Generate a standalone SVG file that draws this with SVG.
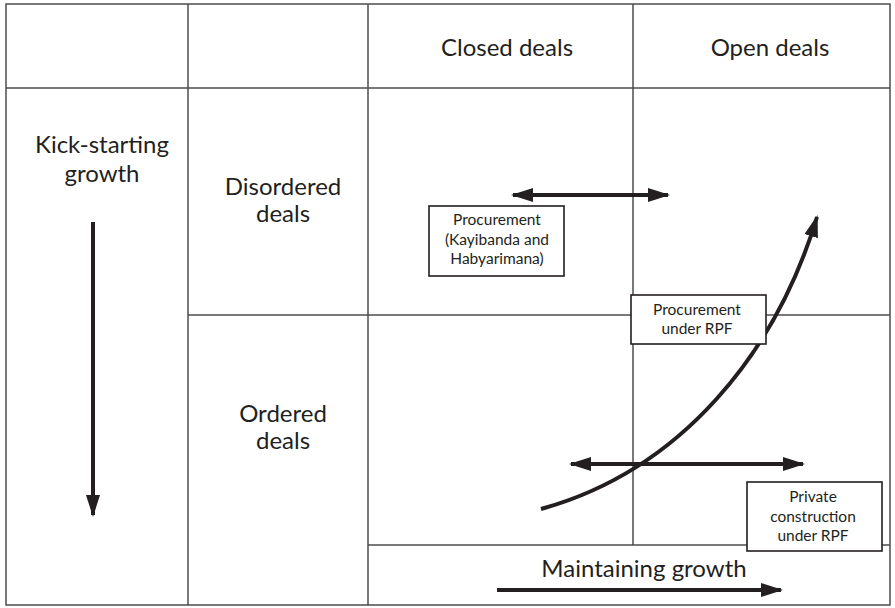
<svg xmlns="http://www.w3.org/2000/svg" width="895" height="608" viewBox="0 0 895 608">
<style>
.grid{stroke:#4d4d4d;stroke-width:1.5;fill:none}
.box{fill:#fff;stroke:#231f20;stroke-width:1.6}
.t{font-family:Lato,"Open Sans",sans-serif;fill:#231f20;text-anchor:middle}
.big{font-size:24px}
.small{font-size:15.5px}
.arr{stroke:#231f20;stroke-width:4;fill:none}
</style>
<defs>
<marker id="ah" markerUnits="userSpaceOnUse" markerWidth="22" markerHeight="14" refX="20" refY="7" orient="auto-start-reverse">
<path d="M0,0 L22,7 L0,14 Z" fill="#231f20"/>
</marker>
</defs>
<rect width="895" height="608" fill="#fff"/>
<g id="grid">
<rect class="grid" x="6" y="4" width="884" height="601"/>
<line class="grid" x1="6" y1="88" x2="890" y2="88"/>
<line class="grid" x1="188" y1="4" x2="188" y2="605"/>
<line class="grid" x1="368" y1="4" x2="368" y2="605"/>
<line class="grid" x1="633" y1="4" x2="633" y2="545"/>
<line class="grid" x1="188" y1="315" x2="890" y2="315"/>
<line class="grid" x1="368" y1="545" x2="890" y2="545"/>
</g>
<g id="headers">
<text class="t big" x="507" y="56">Closed deals</text>
<text class="t big" x="770" y="56">Open deals</text>
<text class="t big" x="102" y="153">Kick-starting</text>
<text class="t big" x="102" y="182">growth</text>
<text class="t big" x="283" y="195">Disordered</text>
<text class="t big" x="283" y="222">deals</text>
<text class="t big" x="283" y="422">Ordered</text>
<text class="t big" x="283" y="449">deals</text>
<text class="t big" x="644" y="577">Maintaining growth</text>
</g>
<g id="connectors">
<line class="arr" x1="93" y1="222" x2="93" y2="515" marker-end="url(#ah)"/>
<line class="arr" x1="513" y1="195" x2="668" y2="195" marker-start="url(#ah)" marker-end="url(#ah)"/>
<line class="arr" x1="571" y1="464" x2="803" y2="464" marker-start="url(#ah)" marker-end="url(#ah)"/>
<line class="arr" x1="497" y1="590" x2="781" y2="590" marker-end="url(#ah)"/>
<path class="arr" d="M541,509 C682,470 776,352 817,217" marker-end="url(#ah)"/>
</g>
<g id="box1">
<rect class="box" x="429" y="206" width="135" height="70"/>
<text class="t small" x="497" y="225">Procurement</text>
<text class="t small" x="497" y="245">(Kayibanda and</text>
<text class="t small" x="497" y="264">Habyarimana)</text>
</g>
<g id="box2">
<rect class="box" x="631" y="295" width="135" height="49"/>
<text class="t small" x="697" y="315">Procurement</text>
<text class="t small" x="697" y="334">under RPF</text>
</g>
<g id="box3">
<rect class="box" x="747" y="482" width="135" height="69"/>
<text class="t small" x="813" y="502">Private</text>
<text class="t small" x="813" y="522">construction</text>
<text class="t small" x="813" y="541">under RPF</text>
</g>
</svg>
